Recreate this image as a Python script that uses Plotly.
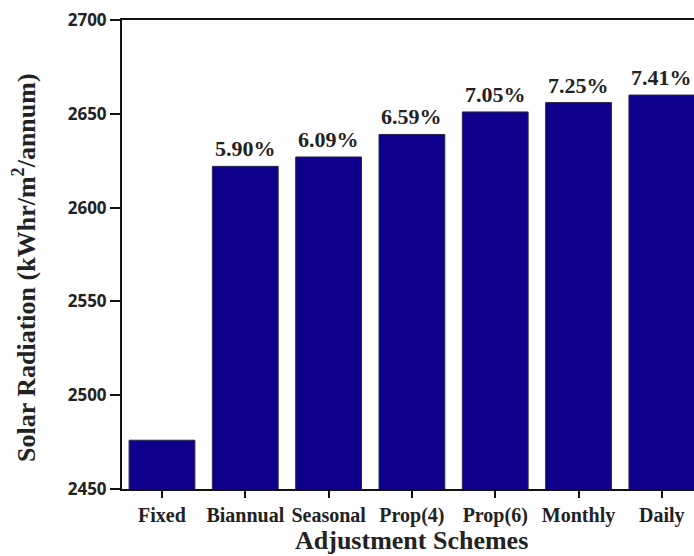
import plotly.graph_objects as go

categories = ["Fixed", "Biannual", "Seasonal", "Prop(4)", "Prop(6)", "Monthly", "Daily"]
values = [2476, 2622, 2627, 2639, 2651, 2656, 2660]
pct_labels = ["", "5.90%", "6.09%", "6.59%", "7.05%", "7.25%", "7.41%"]
y_ticks = [2450, 2500, 2550, 2600, 2650, 2700]

serif = "Liberation Serif, Times New Roman, serif"

fig = go.Figure(go.Bar(
    x=categories, y=values,
    marker=dict(color="#0F008C", line=dict(color="#2a2a50", width=1)),
    hoverinfo="skip",
))

for c, v, t in zip(categories, values, pct_labels):
    if t:
        fig.add_annotation(x=c, y=v, text=t, showarrow=False, yanchor="bottom", yshift=3,
                           font=dict(family=serif, size=22, color="#222", weight="bold"))

fig.add_annotation(xref="paper", yref="paper", x=(411 - 122) / 572, y=-(540 - 489) / 469,
                   text="Adjustment Schemes", showarrow=False, xanchor="center", yanchor="middle",
                   font=dict(family=serif, size=26, color="#222", weight="bold"))
fig.add_annotation(xref="paper", yref="paper", x=(24 - 122) / 572, y=(489 - 268) / 469,
                   text="Solar Radiation (kWhr/m<sup>2</sup>/annum)", textangle=-90, showarrow=False,
                   xanchor="center", yanchor="middle",
                   font=dict(family=serif, size=26, color="#222", weight="bold"))

fig.update_layout(
    width=694, height=556,
    margin=dict(l=122, r=0, t=20, b=67),
    plot_bgcolor="white", paper_bgcolor="white",
    bargap=0.21, showlegend=False,
    xaxis=dict(range=[-0.48, 6.386], showline=True, linecolor="#111", linewidth=2, mirror=True,
               ticks="outside", ticklen=7, tickwidth=2, tickcolor="#111", showgrid=False,
               tickfont=dict(family=serif, size=20, color="#222", weight="bold")),
    yaxis=dict(range=[2450, 2700], tickvals=y_ticks, showline=True, linecolor="#111", linewidth=2,
               ticks="outside", ticklen=10, tickwidth=2, tickcolor="#111", showgrid=False,
               zeroline=False,
               tickfont=dict(family="Open Sans, sans-serif", size=17, color="#222", weight="bold")),
)

fig.write_html("out.html", config={"displayModeBar": False},
               post_script="document.body.style.margin='0';document.body.style.overflow='hidden';")
